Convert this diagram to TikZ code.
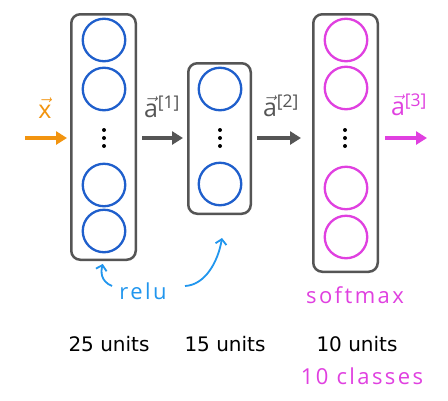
\documentclass[tikz,border=0pt]{standalone}
\usepackage{amsmath}
\usepackage{fontspec}
\setmainfont{DejaVu Sans}
\newfontfamily\vecfont{Open Sans}
\newfontfamily\handfont[LetterSpace=11]{Open Sans}
\usetikzlibrary{arrows.meta,positioning}
\definecolor{boxgray}{HTML}{555555}
\definecolor{nodeblue}{HTML}{1F5FCC}
\definecolor{outmag}{HTML}{E040E0}
\definecolor{inorange}{HTML}{F2940F}
\definecolor{relublue}{HTML}{2196EE}

\begin{document}
\begin{tikzpicture}[x=1pt,y=-1pt,
  layerbox/.style={rectangle,draw=boxgray,line width=2.5pt,rounded corners=9pt,inner sep=0pt},
  unit/.style={circle,line width=2.3pt,minimum size=42.5pt,inner sep=0pt},
  arr/.style={-{Triangle[length=11pt,width=13pt]},line width=4pt},
  vlabel/.style={font=\vecfont\fontsize{25}{30}\selectfont,inner sep=0pt},
  units/.style={font=\fontsize{20}{24}\selectfont,inner sep=0pt},
  hand/.style={font=\handfont\fontsize{22}{26}\selectfont,inner sep=0pt},
  handarr/.style={-{Straight Barb[length=5pt,width=11pt]},line width=1.8pt,relublue}]
\useasboundingbox (0,0) rectangle (448,400);
\fill[white] (0,0) rectangle (448,400);
% layers
\node[layerbox,minimum width=64.5pt,minimum height=245.5pt] (l1) at (103.5,137) {};
\node[layerbox,minimum width=62.5pt,minimum height=150.5pt] (l2) at (219.5,138.5) {};
\node[layerbox,minimum width=64.5pt,minimum height=257.5pt] (l3) at (345.5,143) {};
% units
\foreach \y [count=\i] in {40,89,185,231} \node[unit,draw=nodeblue] (a\i) at (104,\y) {};
\foreach \y [count=\i] in {89,184} \node[unit,draw=nodeblue] (b\i) at (220,\y) {};
\foreach \y [count=\i] in {40,88,188,237} \node[unit,draw=outmag] (c\i) at (346,\y) {};
\foreach \x in {104,220,345}
  \foreach \y in {130,138,146} \fill (\x,\y) circle (2pt);
% connectors
\coordinate (xin) at (25,138);
\coordinate (aout) at (427,138);
\draw[arr,inorange,shorten >=3pt] (xin) -- (l1.west |- xin);
\draw[arr,boxgray,shorten <=5pt,shorten >=4pt] (l1.east |- xin) -- (l2.west |- xin);
\draw[arr,boxgray,shorten <=5pt,shorten >=11pt] (l2.east |- xin) -- (l3.west |- xin);
\draw[arr,outmag,shorten <=6pt] (l3.east |- aout) -- (aout);
\node[vlabel,text=inorange] (xl) at (45,108) {$\vec{\text{x}}$};
\node[vlabel,text=boxgray] (al1) at (162,107) {$\vec{\text{a}}$\textsuperscript{[1]}};
\node[vlabel,text=boxgray] (al2) at (281,106) {$\vec{\text{a}}$\textsuperscript{[2]}};
\node[vlabel,text=outmag] (al3) at (409,105) {$\vec{\text{a}}$\textsuperscript{[3]}};
% activations
\node[hand,text=relublue] (relu) at (143,291) {relu};
\coordinate (r1) at (112,286);
\coordinate (r2) at (185,286);
\coordinate (r2end) at (222,238);
\draw[handarr,shorten >=3pt] (r1) .. controls (100,281) and (101,271) .. (l1.south);
\draw[handarr] (r2) .. controls (205,285) and (218,262) .. (r2end);
\node[hand,text=outmag] (soft) at (355,295) {softmax};
% sizes
\node[units] (u1) at (109,344) {25 units};
\node[units] (u2) at (225,344) {15 units};
\node[units] (u3) at (357,344) {10 units};
\node[hand,text=outmag] (cls) at (362,376) {10 classes};
\end{tikzpicture}
\end{document}
